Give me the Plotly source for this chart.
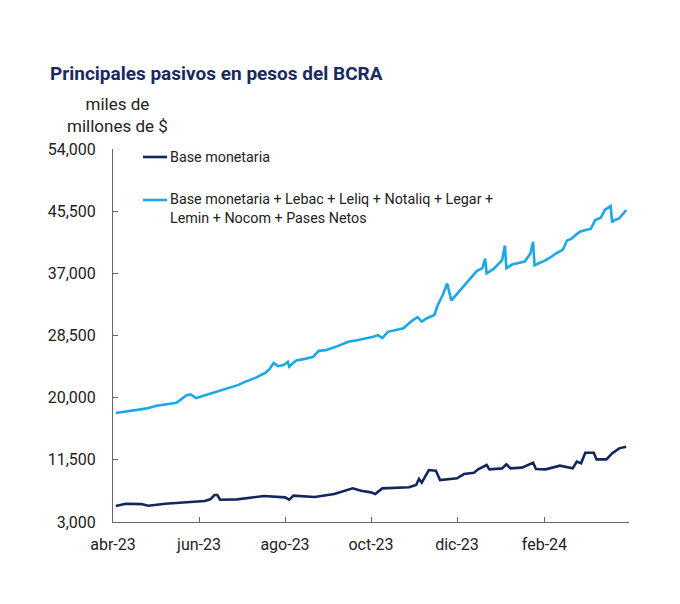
import plotly.graph_objects as go

# ---- Data ----
base_dates = [
    "2023-04-03", "2023-04-10", "2023-04-21", "2023-04-26", "2023-05-08", "2023-05-22",
    "2023-05-31", "2023-06-05", "2023-06-09", "2023-06-12", "2023-06-14", "2023-06-16",
    "2023-06-28", "2023-07-17", "2023-08-01", "2023-08-04", "2023-08-07", "2023-08-22",
    "2023-09-05", "2023-09-18", "2023-09-24", "2023-10-01", "2023-10-04", "2023-10-09",
    "2023-10-28", "2023-11-02", "2023-11-04", "2023-11-06", "2023-11-11", "2023-11-16",
    "2023-11-19", "2023-12-01", "2023-12-06", "2023-12-13", "2023-12-16", "2023-12-22",
    "2023-12-24", "2024-01-02", "2024-01-05", "2024-01-08", "2024-01-16", "2024-01-24",
    "2024-01-26", "2024-02-02", "2024-02-12", "2024-02-19", "2024-02-21", "2024-02-24",
    "2024-02-27", "2024-03-01", "2024-03-07", "2024-03-09", "2024-03-16", "2024-03-20",
    "2024-03-25", "2024-03-30",
]
base_values = [
    5190, 5500, 5450, 5230, 5500, 5690,
    5750, 5870, 6100, 6690, 6690, 6050,
    6100, 6550, 6370, 6050, 6600, 6420,
    6830, 7600, 7270, 7050, 6830, 7600,
    7750, 8060, 8880, 8380, 10100, 10000,
    8740, 8970, 9560, 9740, 10200, 10790,
    10200, 10330, 10880, 10330, 10430, 11110,
    10250, 10200, 10700, 10470, 10330, 11250,
    11020, 12470, 12470, 11560, 11560, 12380,
    13070, 13290,
]

total_dates = [
    "2023-04-03", "2023-04-10", "2023-04-17", "2023-04-24", "2023-05-02", "2023-05-09",
    "2023-05-16", "2023-05-23", "2023-05-26", "2023-05-30", "2023-06-05", "2023-06-12",
    "2023-06-19", "2023-06-26", "2023-06-29", "2023-07-04", "2023-07-11", "2023-07-18",
    "2023-07-21", "2023-07-24", "2023-07-27", "2023-07-31", "2023-08-03", "2023-08-04",
    "2023-08-09", "2023-08-15", "2023-08-21", "2023-08-25", "2023-08-30", "2023-09-06",
    "2023-09-12", "2023-09-15", "2023-09-21", "2023-09-27", "2023-10-02", "2023-10-06",
    "2023-10-09", "2023-10-13", "2023-10-18", "2023-10-24", "2023-10-30", "2023-11-03",
    "2023-11-06", "2023-11-10", "2023-11-15", "2023-11-17", "2023-11-21", "2023-11-24",
    "2023-11-27", "2023-12-01", "2023-12-05", "2023-12-11", "2023-12-15", "2023-12-19",
    "2023-12-21", "2023-12-22", "2023-12-27", "2024-01-02", "2024-01-04", "2024-01-05",
    "2024-01-09", "2024-01-12", "2024-01-18", "2024-01-22", "2024-01-24", "2024-01-25",
    "2024-01-30", "2024-02-02", "2024-02-07", "2024-02-09", "2024-02-14", "2024-02-17",
    "2024-02-20", "2024-02-26", "2024-03-01", "2024-03-05", "2024-03-08", "2024-03-12",
    "2024-03-15", "2024-03-18", "2024-03-19", "2024-03-20", "2024-03-22", "2024-03-25",
    "2024-03-27", "2024-03-30",
]
total_values = [
    17900, 18100, 18300, 18500, 18900, 19100,
    19300, 20300, 20450, 19950, 20300, 20700,
    21100, 21500, 21750, 22200, 22700, 23400,
    23900, 24750, 24300, 24450, 24900, 24250,
    25100, 25300, 25600, 26400, 26500, 26950,
    27400, 27650, 27850, 28050, 28300, 28550,
    28150, 29000, 29250, 29500, 30500, 31000,
    30400, 30900, 31300, 32500, 34100, 35600,
    33300, 34200, 35000, 36500, 37300, 37700,
    39000, 37000, 37600, 38800, 40800, 37700,
    38200, 38350, 38600, 39700, 41300, 38100,
    38500, 38800, 39400, 39700, 40200, 41500,
    41700, 42700, 42900, 43100, 44300, 44600,
    45700, 46150, 46200, 44000, 44300, 44500,
    45000, 45650,
]

x_tickvals = ["2023-04-01", "2023-06-01", "2023-08-01", "2023-10-01",
              "2023-12-01", "2024-02-01", "2024-04-01"]
x_ticktext = ["abr-23", "jun-23", "ago-23", "oct-23", "dic-23", "feb-24", ""]
y_tickvals = [3000, 11500, 20000, 28500, 37000, 45500, 54000]

series_names = ["Base monetaria",
                "Base monetaria + Lebac + Leliq + Notaliq + Legar +<br>Lemin + Nocom + Pases Netos"]

DARK = "#13275f"
LIGHT = "#1ba8e6"
FONT = "Roboto"

# ---- Layout geometry (page pixels; the page body has an 8px margin) ----
OFF = 8
W, H = 680 - OFF, 604 - OFF
L, R, T, B = 113, 629, 149, 522          # plot area in page pixels
pw, ph = R - L, B - T


def px_x(px):
    return (px - L) / pw


def px_y(py):
    return (B - py) / ph


fig = go.Figure()
fig.add_trace(go.Scatter(x=base_dates, y=base_values, mode="lines",
                         line=dict(color=DARK, width=2.6), name=series_names[0],
                         showlegend=False))
fig.add_trace(go.Scatter(x=total_dates, y=total_values, mode="lines",
                         line=dict(color=LIGHT, width=2.6), name=series_names[1],
                         showlegend=False))

fig.update_layout(
    width=W, height=H,
    paper_bgcolor="white", plot_bgcolor="white",
    margin=dict(l=L - OFF, r=W - (R - OFF), t=T - OFF, b=H - (B - OFF), pad=0),
    font=dict(family=FONT, color="#222222"),
    title=dict(text="<b>Principales pasivos en pesos del BCRA</b>",
               font=dict(family=FONT, size=19, color="#1b2a5e"),
               x=(50 - OFF) / W, xanchor="left", xref="container",
               y=1 - (73 - OFF) / H, yanchor="middle", yref="container"),
    xaxis=dict(type="date", range=["2023-04-01", "2024-04-01"],
               tickvals=x_tickvals, ticktext=x_ticktext,
               ticks="inside", ticklen=5, tickcolor="#666666",
               showline=True, linecolor="#666666", linewidth=1,
               showgrid=False, zeroline=False, ticklabelstandoff=8,
               tickfont=dict(size=16, color="#222222")),
    yaxis=dict(range=[3000, 54000], tickvals=y_tickvals, tickformat=",",
               ticks="inside", ticklen=5, tickcolor="#666666",
               showline=True, linecolor="#666666", linewidth=1,
               showgrid=False, zeroline=False, ticklabelstandoff=13,
               tickfont=dict(size=16, color="#222222")),
)

# y-axis unit label
fig.add_annotation(text="miles de<br>millones de $", xref="paper", yref="paper",
                   x=px_x(117), y=px_y(114.5), xanchor="center", yanchor="middle",
                   showarrow=False, align="center",
                   font=dict(family=FONT, size=17, color="#222222"))

# custom legend
legend_rows = [(157, 157), (200, 208.5)]
for (ly, ty), name, col in zip(legend_rows, series_names, [DARK, LIGHT]):
    fig.add_shape(type="line", xref="paper", yref="paper",
                  x0=px_x(143), x1=px_x(167), y0=px_y(ly), y1=px_y(ly),
                  line=dict(color=col, width=2.6))
    fig.add_annotation(text=name, xref="paper", yref="paper",
                       x=px_x(168), y=px_y(ty), xanchor="left", yanchor="middle",
                       showarrow=False, align="left",
                       font=dict(family=FONT, size=14.3, color="#222222"))

fig.write_html("out.html")
